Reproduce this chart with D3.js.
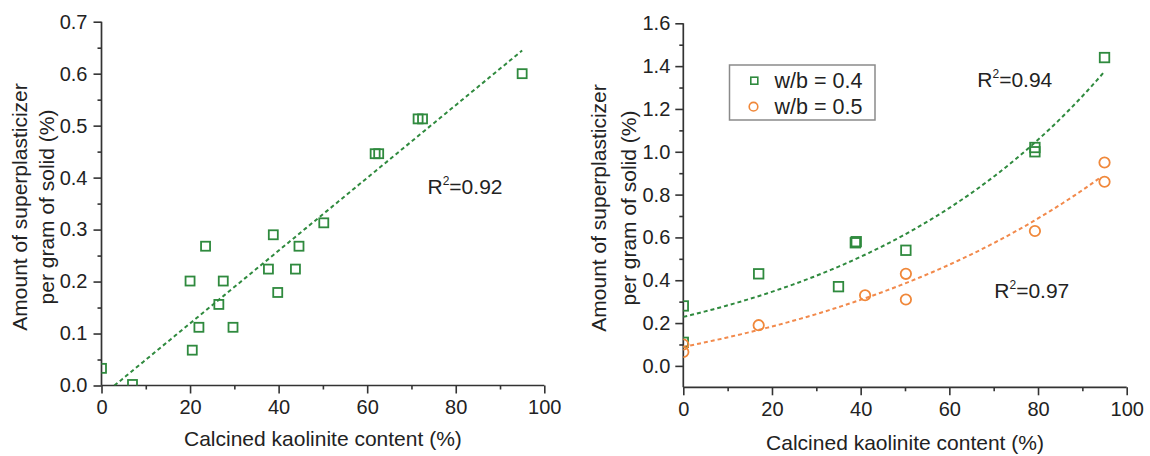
<!DOCTYPE html>
<html>
<head>
<meta charset="utf-8">
<script src="https://cdn.jsdelivr.net/npm/d3@7"></script>
<style>
  html, body { margin: 0; padding: 0; background: #fff; }
  svg { display: block; }
  text { font-family: "Liberation Sans", Arial, sans-serif; fill: #222; }
</style>
</head>
<body>
<svg id="chart" width="1150" height="456"></svg>
<script>
// ---- data: superplasticizer demand vs calcined kaolinite content ----
const kaoliniteA = [0, 7, 20, 20.5, 22, 23.5, 26.5, 27.5, 29.7, 37.7, 38.8, 39.8, 43.8, 44.6, 50.2, 61.8, 62.6, 71.5, 72.5, 95];
const demandA    = [0.033, 0.002, 0.201, 0.068, 0.112, 0.268, 0.156, 0.201, 0.112, 0.224, 0.290, 0.179, 0.224, 0.268, 0.313, 0.446, 0.446, 0.513, 0.513, 0.600];

const kaoliniteWb04 = [0, 0, 17, 35, 38.8, 39, 50.2, 79.3, 79.3, 95];
const demandWb04    = [0.28, 0.11, 0.43, 0.37, 0.575, 0.58, 0.54, 1.00, 1.02, 1.44];
const kaoliniteWb05 = [0, 0, 17, 41, 50.2, 50.2, 79.3, 95, 95];
const demandWb05    = [0.10, 0.065, 0.19, 0.33, 0.43, 0.31, 0.63, 0.95, 0.86];

// fitted trend lines: linear [intercept, slope]; exponential growth [y0, A, t]
const linearFitA  = [-0.0205, 0.0070];
const linearFitARange = [2.9, 95];
const expFitWb04  = [-0.067, 0.296, 60];
const expFitWb04Range = [0, 95];
const expFitWb05  = [-0.212, 0.301, 73];
const expFitWb05Range = [0, 94];

const xTicks = [0, 20, 40, 60, 80, 100];
const xMinorTicks = [10, 30, 50, 70, 90];
const yTicksA = [0, 0.1, 0.2, 0.3, 0.4, 0.5, 0.6, 0.7];
const yMinorTicksA = [0.05, 0.15, 0.25, 0.35, 0.45, 0.55, 0.65];
const yTicksB = [0, 0.2, 0.4, 0.6, 0.8, 1.0, 1.2, 1.4, 1.6];
const yMinorTicksB = [0.1, 0.3, 0.5, 0.7, 0.9, 1.1, 1.3, 1.5];

const legendLabels = ["w/b = 0.4", "w/b = 0.5"];
const r2Labels = ["0.92", "0.94", "0.97"];
const xTitle = "Calcined kaolinite content (%)";
const yTitle = ["Amount of superplasticizer", "per gram of solid (%)"];

const GREEN = "#2f8a3e";
const ORANGE = "#f0883a";
const ORANGE_LINE = "#f28a4c";
const AXIS = "#333";

const svg = d3.select("#chart");
const TICK_FONT = 20;
const TITLE_FONT = 21;

function drawAxes(g, x, y, yTicks, yMinor, yFmt, opts) {
  const [x0, x1] = x.range();
  const [yb, yt] = y.range();
  // x axis
  const xa = g.append("g").attr("transform", `translate(0,${yb})`)
    .call(d3.axisBottom(x).tickValues(xTicks).tickSize(8).tickPadding(opts.xPad).tickFormat(d3.format("d")));
  xa.select(".domain").remove();
  g.append("g").attr("transform", `translate(0,${yb})`)
    .call(d3.axisBottom(x).tickValues(xMinorTicks).tickSize(4).tickFormat(""))
    .select(".domain").remove();
  // y axis
  const ya = g.append("g").attr("transform", `translate(${x0},0)`)
    .call(d3.axisLeft(y).tickValues(yTicks).tickSize(8).tickPadding(opts.yPad).tickFormat(yFmt));
  ya.select(".domain").remove();
  g.append("g").attr("transform", `translate(${x0},0)`)
    .call(d3.axisLeft(y).tickValues(yMinor).tickSize(4).tickFormat(""))
    .select(".domain").remove();
  // axis lines
  g.append("line").attr("x1", x0).attr("x2", x1).attr("y1", yb).attr("y2", yb);
  g.append("line").attr("x1", x0).attr("x2", x0).attr("y1", yb).attr("y2", yt);
  g.selectAll("line").attr("stroke", AXIS).attr("stroke-width", 1.7);
  g.selectAll(".tick line").attr("stroke", AXIS).attr("stroke-width", 1.6);
  g.selectAll(".tick text").attr("font-size", TICK_FONT).attr("fill", "#222")
    .attr("font-family", "Liberation Sans, Arial, sans-serif");
  // titles
  g.append("text").attr("x", (x0 + x1) / 2).attr("y", opts.xTitleY)
    .attr("text-anchor", "middle").attr("font-size", TITLE_FONT).text(xTitle);
  const cy = opts.yTitleCY;
  yTitle.forEach((t, i) => {
    g.append("text")
      .attr("transform", `translate(${opts.yTitleX[i]},${cy}) rotate(-90)`)
      .attr("text-anchor", "middle").attr("font-size", TITLE_FONT).text(t);
  });
}

function squares(g, xs, ys, x, y, size) {
  g.selectAll(null).data(d3.range(xs.length)).join("rect")
    .attr("x", i => x(xs[i]) - size / 2).attr("y", i => y(ys[i]) - size / 2)
    .attr("width", size).attr("height", size)
    .attr("fill", "none").attr("stroke", GREEN).attr("stroke-width", 1.8);
}
function circles(g, xs, ys, x, y, r) {
  g.selectAll(null).data(d3.range(xs.length)).join("circle")
    .attr("cx", i => x(xs[i])).attr("cy", i => y(ys[i])).attr("r", r)
    .attr("fill", "none").attr("stroke", ORANGE).attr("stroke-width", 1.8);
}
function fitPath(g, f, range, x, y, color) {
  const pts = d3.range(0, 101).map(k => range[0] + (range[1] - range[0]) * k / 100);
  g.append("path").datum(pts)
    .attr("d", d3.line().x(d => x(d)).y(d => y(f(d))))
    .attr("fill", "none").attr("stroke", color).attr("stroke-width", 2)
    .attr("stroke-dasharray", "4,3");
}
function r2(g, xPos, yPos, value) {
  const t = g.append("text").attr("x", xPos).attr("y", yPos).attr("font-size", 21);
  t.append("tspan").text("R");
  t.append("tspan").attr("font-size", 12).attr("dy", -9).text("2");
  t.append("tspan").attr("dy", 9).text("=" + value);
}

// ---------------- left panel ----------------
{
  const x = d3.scaleLinear().domain([0, 100]).range([101.5, 544.3]);
  const y = d3.scaleLinear().domain([0, 0.7]).range([385.5, 21.7]);
  const g = svg.append("g");
  g.append("clipPath").attr("id", "clipA").append("rect")
    .attr("x", 101.5).attr("y", 0).attr("width", 460).attr("height", 385.5);
  drawAxes(g, x, y, yTicksA, yMinorTicksA, d3.format(".1f"),
    { xPad: 6, yPad: 6, xTitleY: 446, yTitleCY: 207, yTitleX: [26.5, 54] });
  const plot = g.append("g").attr("clip-path", "url(#clipA)");
  fitPath(plot, v => linearFitA[0] + linearFitA[1] * v, linearFitARange, x, y, GREEN);
  squares(plot, kaoliniteA, demandA, x, y, 9);
  r2(g, 427.5, 194.3, r2Labels[0]);
}

// ---------------- right panel ----------------
{
  const x = d3.scaleLinear().domain([0, 100]).range([683.3, 1126.7]);
  const y = d3.scaleLinear().domain([-0.1, 1.6]).range([387.3, 23.3]);
  const g = svg.append("g");
  g.append("clipPath").attr("id", "clipB").append("rect")
    .attr("x", 683.3).attr("y", 0).attr("width", 460).attr("height", 387.3);
  drawAxes(g, x, y, yTicksB, yMinorTicksB, d3.format(".1f"),
    { xPad: 7, yPad: 5, xTitleY: 450, yTitleCY: 208, yTitleX: [605.5, 635.5] });
  const plot = g.append("g").attr("clip-path", "url(#clipB)");
  const expF = p => v => p[0] + p[1] * Math.exp(v / p[2]);
  fitPath(plot, expF(expFitWb04), expFitWb04Range, x, y, GREEN);
  fitPath(plot, expF(expFitWb05), expFitWb05Range, x, y, ORANGE_LINE);
  squares(plot, kaoliniteWb04, demandWb04, x, y, 9.5);
  circles(plot, kaoliniteWb05, demandWb05, x, y, 5.2);
  r2(g, 977.3, 87.3, r2Labels[1]);
  r2(g, 994.3, 297.7, r2Labels[2]);

  // legend
  const lg = g.append("g");
  lg.append("rect").attr("x", 729.5).attr("y", 65).attr("width", 145.5).attr("height", 55)
    .attr("fill", "#fff").attr("stroke", "#8a8a8a").attr("stroke-width", 1.5);
  lg.append("rect").attr("x", 754.3 - 3.5).attr("y", 80.7 - 3.5).attr("width", 7).attr("height", 7)
    .attr("fill", "none").attr("stroke", GREEN).attr("stroke-width", 1.6);
  lg.append("circle").attr("cx", 753.5).attr("cy", 106.7).attr("r", 4.3)
    .attr("fill", "none").attr("stroke", ORANGE).attr("stroke-width", 1.6);
  lg.selectAll(null).data(legendLabels).join("text")
    .attr("x", 774.5).attr("y", (d, i) => 87.5 + i * 26)
    .attr("font-size", 21.5).text(d => d);
}
</script>
</body>
</html>
